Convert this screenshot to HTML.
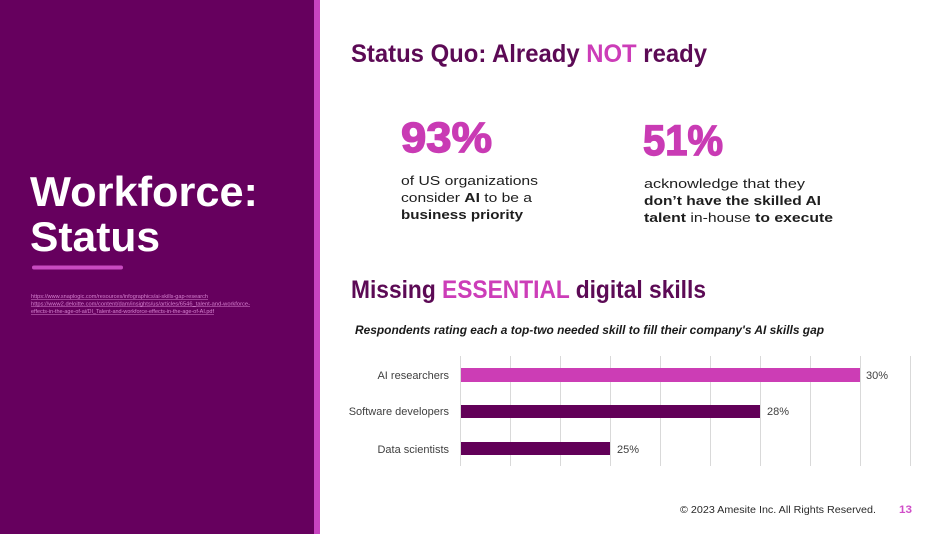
<!DOCTYPE html>
<html>
<head>
<meta charset="utf-8">
<style>
html,body{margin:0;padding:0;background:#fff;}
body{width:950px;height:534px;overflow:hidden;}
svg{display:block;}
text{font-family:"Liberation Sans",sans-serif;}
</style>
</head>
<body>
<svg width="950" height="534" viewBox="0 0 950 534" xmlns="http://www.w3.org/2000/svg">
  <rect x="0" y="0" width="950" height="534" fill="#ffffff"/>
  <!-- left panel -->
  <rect x="0" y="0" width="314" height="534" fill="#66005e"/>
  <rect x="314" y="0" width="6" height="534" fill="#c843c0"/>

  <text x="30" y="206" font-size="42" font-weight="bold" fill="#ffffff" textLength="228" lengthAdjust="spacingAndGlyphs">Workforce:</text>
  <text x="30" y="251" font-size="42" font-weight="bold" fill="#ffffff" textLength="130" lengthAdjust="spacingAndGlyphs">Status</text>
  <line x1="34" y1="267.5" x2="121" y2="267.5" stroke="#c84bc0" stroke-width="4" stroke-linecap="round"/>

  <g font-size="5" fill="#d580cf" text-decoration="underline">
    <text x="31" y="298" textLength="177" lengthAdjust="spacingAndGlyphs">https://www.snaplogic.com/resources/infographics/ai-skills-gap-research</text>
    <text x="31" y="305.5" textLength="219" lengthAdjust="spacingAndGlyphs">https://www2.deloitte.com/content/dam/insights/us/articles/6546_talent-and-workforce-</text>
    <text x="31" y="313" textLength="183" lengthAdjust="spacingAndGlyphs">effects-in-the-age-of-ai/DI_Talent-and-workforce-effects-in-the-age-of-AI.pdf</text>
  </g>

  <!-- title 1 -->
  <text x="351" y="62" font-size="25" font-weight="bold" fill="#5c0a55" textLength="356" lengthAdjust="spacingAndGlyphs">Status Quo: Already <tspan fill="#cc3db8">NOT</tspan> ready</text>

  <!-- stats -->
  <text x="401" y="152" font-size="43" font-weight="bold" fill="#c93bb4" stroke="#c93bb4" stroke-width="1.4" textLength="91" lengthAdjust="spacingAndGlyphs">93%</text>
  <text x="643" y="155" font-size="43" font-weight="bold" fill="#c93bb4" stroke="#c93bb4" stroke-width="1.4" textLength="80" lengthAdjust="spacingAndGlyphs">51%</text>

  <g font-size="13" fill="#1e1e1e">
    <text x="401" y="185" textLength="137" lengthAdjust="spacingAndGlyphs">of US organizations</text>
    <text x="401" y="202" textLength="131" lengthAdjust="spacingAndGlyphs">consider <tspan font-weight="bold">AI</tspan> to be a</text>
    <text x="401" y="219" font-weight="bold" textLength="122" lengthAdjust="spacingAndGlyphs">business priority</text>

    <text x="644" y="188" textLength="161" lengthAdjust="spacingAndGlyphs">acknowledge that they</text>
    <text x="644" y="205" font-weight="bold" textLength="177" lengthAdjust="spacingAndGlyphs">don’t have the skilled AI</text>
    <text x="644" y="222" textLength="189" lengthAdjust="spacingAndGlyphs"><tspan font-weight="bold">talent</tspan> in-house <tspan font-weight="bold">to execute</tspan></text>
  </g>

  <!-- title 2 -->
  <text x="351" y="298" font-size="25" font-weight="bold" fill="#5c0a55" textLength="355" lengthAdjust="spacingAndGlyphs">Missing <tspan fill="#cc3db8">ESSENTIAL</tspan> digital skills</text>

  <text x="355" y="334" font-size="12" font-weight="bold" font-style="italic" fill="#1a1a1a" textLength="469" lengthAdjust="spacingAndGlyphs">Respondents rating each a top-two needed skill to fill their company's AI skills gap</text>

  <!-- gridlines -->
  <g stroke="#d9d9d9" stroke-width="1">
    <line x1="460.5" y1="356" x2="460.5" y2="466"/>
    <line x1="510.5" y1="356" x2="510.5" y2="466"/>
    <line x1="560.5" y1="356" x2="560.5" y2="466"/>
    <line x1="610.5" y1="356" x2="610.5" y2="466"/>
    <line x1="660.5" y1="356" x2="660.5" y2="466"/>
    <line x1="710.5" y1="356" x2="710.5" y2="466"/>
    <line x1="760.5" y1="356" x2="760.5" y2="466"/>
    <line x1="810.5" y1="356" x2="810.5" y2="466"/>
    <line x1="860.5" y1="356" x2="860.5" y2="466"/>
    <line x1="910.5" y1="356" x2="910.5" y2="466"/>
  </g>

  <!-- bars -->
  <rect x="461" y="368" width="399" height="14" fill="#cc3db5"/>
  <rect x="461" y="405" width="299" height="13" fill="#620058"/>
  <rect x="461" y="442" width="149" height="13" fill="#620058"/>

  <!-- category labels -->
  <g font-size="11" fill="#404040" text-anchor="end">
    <text x="449" y="379">AI researchers</text>
    <text x="449" y="415">Software developers</text>
    <text x="449" y="453">Data scientists</text>
  </g>
  <!-- value labels -->
  <g font-size="11" fill="#404040">
    <text x="866" y="379">30%</text>
    <text x="767" y="415">28%</text>
    <text x="617" y="453">25%</text>
  </g>

  <!-- footer -->
  <text x="680" y="513" font-size="10" fill="#2a2a2a" textLength="196" lengthAdjust="spacingAndGlyphs">© 2023 Amesite Inc. All Rights Reserved.</text>
  <text x="899" y="513" font-size="11" font-weight="bold" fill="#d04dc8" textLength="13" lengthAdjust="spacingAndGlyphs">13</text>
</svg>
</body>
</html>
